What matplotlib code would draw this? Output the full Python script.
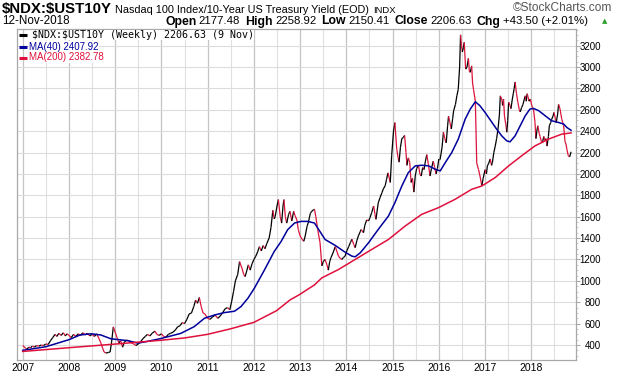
import numpy as np
import matplotlib
matplotlib.use("Agg")
import matplotlib.pyplot as plt
from matplotlib.collections import LineCollection
from matplotlib.lines import Line2D
from matplotlib.ticker import MultipleLocator, FixedLocator

# ---------------------------------------------------------
# DATA (time as fractional year)
# ---------------------------------------------------------

price_t = [
    2007.00, 2007.03, 2007.06, 2007.09, 2007.13, 2007.17, 2007.21, 2007.25, 2007.30, 2007.35,
    2007.40, 2007.45, 2007.50, 2007.55, 2007.60, 2007.65, 2007.70, 2007.74, 2007.78, 2007.83,
    2007.88, 2007.92, 2007.96, 2008.00, 2008.05, 2008.10, 2008.15, 2008.20, 2008.25, 2008.30,
    2008.35, 2008.40, 2008.45, 2008.50, 2008.55, 2008.60, 2008.65, 2008.69, 2008.72, 2008.76,
    2008.80, 2008.85, 2008.89, 2008.92, 2008.96, 2009.00, 2009.04, 2009.08, 2009.12, 2009.16,
    2009.20, 2009.25, 2009.30, 2009.35, 2009.40, 2009.45, 2009.50, 2009.55, 2009.60, 2009.65,
    2009.70, 2009.75, 2009.80, 2009.86, 2009.90, 2009.95, 2010.00, 2010.05, 2010.10, 2010.15,
    2010.20, 2010.25, 2010.30, 2010.35, 2010.40, 2010.45, 2010.50, 2010.55, 2010.60, 2010.65,
    2010.70, 2010.74, 2010.78, 2010.82, 2010.86, 2010.90, 2010.94, 2011.00, 2011.05, 2011.10,
    2011.16, 2011.22, 2011.27, 2011.32, 2011.38, 2011.43, 2011.48, 2011.52, 2011.56, 2011.60,
    2011.65, 2011.69, 2011.74, 2011.78, 2011.81, 2011.85, 2011.88, 2011.92, 2011.96, 2012.00,
    2012.04, 2012.08, 2012.12, 2012.16, 2012.20, 2012.24, 2012.28, 2012.33, 2012.37, 2012.41,
    2012.44, 2012.46, 2012.50, 2012.53, 2012.57, 2012.60, 2012.63, 2012.65, 2012.68, 2012.71,
    2012.75, 2012.78, 2012.82, 2012.86, 2012.89, 2012.93, 2012.96, 2013.00, 2013.04, 2013.08,
    2013.11, 2013.15, 2013.18, 2013.22, 2013.25, 2013.29, 2013.31, 2013.34, 2013.38, 2013.43,
    2013.47, 2013.50, 2013.54, 2013.58, 2013.61, 2013.64, 2013.67, 2013.71, 2013.76, 2013.80,
    2013.83, 2013.87, 2013.90, 2013.94, 2013.97, 2014.01, 2014.05, 2014.09, 2014.12, 2014.16,
    2014.19, 2014.23, 2014.26, 2014.30, 2014.32, 2014.37, 2014.40, 2014.44, 2014.48, 2014.51,
    2014.55, 2014.59, 2014.62, 2014.64, 2014.69, 2014.73, 2014.77, 2014.80, 2014.84, 2014.87,
    2014.90, 2014.95, 2014.98, 2015.02, 2015.05, 2015.09, 2015.12, 2015.14, 2015.17, 2015.20,
    2015.23, 2015.26, 2015.29, 2015.31, 2015.34, 2015.37, 2015.40, 2015.43, 2015.46, 2015.49,
    2015.52, 2015.56, 2015.59, 2015.62, 2015.65, 2015.68, 2015.71, 2015.74, 2015.77, 2015.81,
    2015.84, 2015.88, 2015.91, 2015.94, 2015.97, 2016.00, 2016.03, 2016.07, 2016.10, 2016.13,
    2016.16, 2016.19, 2016.21, 2016.24, 2016.27, 2016.30, 2016.32, 2016.36, 2016.39, 2016.42,
    2016.45, 2016.47, 2016.49, 2016.51, 2016.53, 2016.55, 2016.58, 2016.61, 2016.64, 2016.66,
    2016.68, 2016.71, 2016.73, 2016.75, 2016.79, 2016.82, 2016.86, 2016.89, 2016.93, 2016.96,
    2017.00, 2017.03, 2017.05, 2017.08, 2017.11, 2017.14, 2017.16, 2017.19, 2017.22, 2017.25,
    2017.28, 2017.31, 2017.33, 2017.36, 2017.38, 2017.40, 2017.42, 2017.45, 2017.47, 2017.49,
    2017.51, 2017.54, 2017.56, 2017.59, 2017.61, 2017.63, 2017.65, 2017.68, 2017.71, 2017.74,
    2017.76, 2017.79, 2017.82, 2017.85, 2017.87, 2017.89, 2017.91, 2017.93, 2017.95, 2017.98,
    2018.01, 2018.03, 2018.05, 2018.08, 2018.10, 2018.12, 2018.14, 2018.17, 2018.19, 2018.22,
    2018.24, 2018.27, 2018.30, 2018.32, 2018.34, 2018.37, 2018.39, 2018.42, 2018.44, 2018.47,
    2018.49, 2018.52, 2018.54, 2018.57, 2018.59, 2018.62, 2018.64, 2018.66, 2018.68, 2018.70,
    2018.73, 2018.75, 2018.77, 2018.80, 2018.83, 2018.86,
]
price_v = [
    395, 385, 370, 360, 380, 375, 390, 380, 395, 390,
    400, 395, 410, 405, 440, 470, 500, 480, 510, 490,
    515, 485, 505, 490, 470, 500, 480, 505, 490, 515,
    495, 510, 485, 500, 480, 505, 460, 420, 380, 335,
    325, 330, 335, 420, 570, 520, 470, 420, 440, 380,
    430, 445, 440, 420, 410, 395, 410, 430, 460, 480,
    500, 485, 510, 530, 500, 490, 505, 480, 475, 500,
    510, 520, 540, 570, 580, 610, 600, 640, 690, 700,
    760, 820, 790, 845, 760, 700, 690, 650, 640, 660,
    680, 650, 670, 700, 740, 750, 730, 810, 900, 1000,
    1060, 1180, 1120, 1060, 1040, 1100, 1150, 1100, 1160, 1200,
    1230, 1270, 1320, 1280, 1330, 1300, 1350, 1400, 1500, 1660,
    1580, 1600, 1700, 1760, 1600, 1540, 1700, 1760, 1600, 1540,
    1620, 1650, 1560, 1650, 1610, 1570, 1480, 1420, 1390, 1370,
    1420, 1510, 1550, 1630, 1650, 1665, 1670, 1600, 1480, 1360,
    1140, 1180, 1200, 1150, 1100, 1180, 1220, 1260, 1320, 1270,
    1230, 1210, 1200, 1220, 1230, 1280, 1320, 1360, 1390, 1340,
    1310, 1380, 1420, 1460, 1480, 1450, 1520, 1570, 1560, 1590,
    1640, 1700, 1620, 1575, 1730, 1780, 1825, 1860, 1890, 1950,
    2010, 1920, 2170, 2400, 2480, 2230, 2150, 2110, 2250, 2330,
    2340, 2360, 2200, 2080, 2150, 2110, 1920, 1960, 1830, 1980,
    2050, 2080, 2000, 1980, 2060, 2040, 2120, 2180, 2100, 1980,
    2050, 2120, 2060, 2000, 2050, 2140, 2140, 2250, 2390, 2330,
    2290, 2450, 2540, 2480, 2420, 2520, 2590, 2650, 2730, 2790,
    3000, 3300, 3200, 3140, 3180, 3230, 2980, 3000, 3080, 2960,
    2950, 3010, 2850, 2790, 2680, 2100, 2040, 1980, 1890, 1960,
    2040, 2000, 2075, 2100, 2140, 2080, 2110, 2200, 2260, 2330,
    2420, 2550, 2730, 2700, 2640, 2700, 2540, 2460, 2390, 2500,
    2670, 2640, 2610, 2700, 2750, 2800, 2860, 2750, 2670, 2600,
    2580, 2620, 2650, 2700, 2730, 2680, 2750, 2720, 2680, 2700,
    2640, 2620, 2600, 2480, 2330, 2400, 2450, 2380, 2350, 2300,
    2290, 2350, 2310, 2330, 2260, 2350, 2450, 2480, 2510, 2540,
    2575, 2520, 2480, 2560, 2650, 2610, 2560, 2510, 2480, 2450,
    2300, 2280, 2230, 2170, 2160, 2207,
]

ma40_t = [2007.00, 2007.50, 2008.00, 2008.24, 2008.48, 2008.69, 2008.91, 2009.27, 2009.49, 2009.70,
          2010.00, 2010.42, 2010.71, 2010.93, 2011.15, 2011.36, 2011.58, 2011.72, 2011.87, 2012.01,
          2012.23, 2012.44, 2012.59, 2012.73, 2012.88, 2013.02, 2013.16, 2013.31, 2013.40, 2013.54,
          2013.76, 2013.97, 2014.12, 2014.19, 2014.30, 2014.48, 2014.69, 2014.91, 2015.05, 2015.20,
          2015.34, 2015.49, 2015.63, 2015.78, 2015.92, 2016.03, 2016.14, 2016.28, 2016.42, 2016.57,
          2016.68, 2016.79, 2016.89, 2017.00, 2017.15, 2017.25, 2017.36, 2017.47, 2017.54, 2017.65,
          2017.76, 2017.87, 2017.97, 2018.05, 2018.16, 2018.30, 2018.44, 2018.59, 2018.70, 2018.77,
          2018.86]
ma40_v = [350, 384, 450, 494, 505, 494, 458, 441, 418, 434,
          462, 509, 572, 650, 681, 703, 716, 759, 837, 931,
          1103, 1275, 1369, 1478, 1541, 1556, 1556, 1541, 1481, 1387,
          1331, 1269, 1231, 1225, 1262, 1356, 1481, 1606, 1731, 1887,
          2012, 2075, 2081, 2075, 2044, 2028, 2106, 2200, 2325, 2512,
          2606, 2675, 2637, 2575, 2481, 2419, 2356, 2309, 2300, 2356,
          2450, 2544, 2606, 2612, 2591, 2544, 2497, 2481, 2466, 2434,
          2408]

ma200_t = [2007.00, 2008.00, 2009.00, 2010.00, 2010.50, 2011.00, 2011.50, 2012.00, 2012.49, 2012.78,
           2013.00, 2013.14, 2013.31, 2013.47, 2013.83, 2014.19, 2014.55, 2014.91, 2015.27, 2015.63,
           2015.99, 2016.35, 2016.71, 2016.93, 2017.22, 2017.51, 2017.79, 2018.08, 2018.37, 2018.66,
           2018.86]
ma200_v = [340, 375, 409, 445, 466, 500, 552, 612, 721, 821,
           875, 915, 962, 1028, 1106, 1200, 1294, 1387, 1512, 1622,
           1684, 1762, 1856, 1887, 1966, 2075, 2169, 2262, 2325, 2372,
           2383]

year_ticks = list(range(2007, 2019))
half_years = [y + 0.5 for y in range(2006, 2019)]

# ---------------------------------------------------------
# STYLE
# ---------------------------------------------------------

W, H = 620, 376
UP = "#000000"
DOWN = "#DC143C"
MA40_C = "#00009C"
MA200_C = "#E0103C"
SANS = ["Liberation Sans", "DejaVu Sans"]

def fx(px):
    return px / W

def fy(py):
    return 1 - py / H

fig = plt.figure(figsize=(W / 100, H / 100), dpi=100)
ax = fig.add_axes([fx(16.7), fy(360), fx(576) - fx(16.7), fy(29) - fy(360)])
renderer = fig.canvas.get_renderer()

# grid
for y in half_years:
    ax.axvline(y, color="#E0E0E0", lw=0.8, zorder=0)
for y in year_ticks + [2019]:
    ax.axvline(y, color="#C4C4C4", lw=0.9, zorder=0)
for v in range(400, 3400, 200):
    ax.axhline(v, color="#DCDCDC", lw=0.8, zorder=0)

# price, black on up weeks, red on down weeks
pts = np.column_stack([price_t, price_v])
segs = np.stack([pts[:-1], pts[1:]], axis=1)
cols = [UP if b >= a else DOWN for a, b in zip(price_v[:-1], price_v[1:])]
ax.add_collection(LineCollection(segs, colors=cols, linewidths=0.9, zorder=3))

ax.plot(ma40_t, ma40_v, color=MA40_C, lw=1.1, zorder=4)
ax.plot(ma200_t, ma200_v, color=MA200_C, lw=1.1, zorder=4)

ax.set_xlim(2006.87, 2018.967)
ax.set_ylim(260, 3355)

for s in ax.spines.values():
    s.set_color("#A8A8A8")
    s.set_linewidth(0.9)

ax.yaxis.tick_right()
ax.yaxis.set_major_locator(FixedLocator(range(400, 3400, 200)))
ax.yaxis.set_minor_locator(MultipleLocator(50))
ax.tick_params(axis="y", which="major", length=3, color="#A8A8A8", pad=15, labelsize=7)
ax.tick_params(axis="y", which="minor", length=1.5, color="#C0C0C0")
for lbl in ax.get_yticklabels():
    lbl.set_ha("right")
    lbl.set_fontfamily(SANS)

ax.set_xticks(year_ticks)
ax.set_xticklabels([str(y) for y in year_ticks])
ax.tick_params(axis="x", length=0, pad=2.5, labelsize=7.5)
for lbl in ax.get_xticklabels():
    lbl.set_fontfamily(SANS)

# legend in the top-left corner
legend_rows = [
    (r"\$NDX:\$UST10Y (Weekly) 2206.63 (9 Nov)", UP, ["DejaVu Sans Mono"], 7.2, 32, 35),
    ("MA(40) 2407.92", MA40_C, SANS, 7, 29.5, 46.5),
    ("MA(200) 2382.78", MA200_C, SANS, 7, 29.5, 57.5),
]
for txt, c, fam, size, x0, y0 in legend_rows:
    fig.add_artist(Line2D([fx(19.5), fx(27)], [fy(y0), fy(y0)], color=c, lw=2.2,
                          transform=fig.transFigure, solid_capstyle="butt"))
    fig.text(fx(x0), fy(y0), txt, color=c, fontsize=size, family=fam, va="center",
             bbox=dict(facecolor="white", edgecolor="none", pad=0.3))

# header, pieces laid out left to right on a common baseline
def row(parts, x0, base):
    x = x0
    for txt, size, wt, gap in parts:
        x += gap
        t = fig.text(fx(x), fy(base), txt, fontsize=size, weight=wt, color="black",
                     family=SANS, va="baseline")
        x = t.get_window_extent(renderer).x1

row([
    (r"\$NDX:\$UST10Y", 10.8, "bold", 0),
    ("Nasdaq 100 Index/10-Year US Treasury Yield (EOD)", 7.8, "normal", 3),
    ("INDX", 6.8, "normal", 4),
], 2, 13)

fig.text(fx(612), fy(8), "©StockCharts.com", fontsize=8.6, color="#555555",
         family=SANS, ha="right", va="center")

row([("12-Nov-2018", 8.4, "normal", 0)], 2, 24.5)

row([
    ("Open", 8.8, "bold", 0),
    ("2177.48", 8.2, "normal", 2.5),
    ("High", 8.8, "bold", 5),
    ("2258.92", 8.2, "normal", 2.5),
    ("Low", 8.8, "bold", 5),
    ("2150.41", 8.2, "normal", 2.5),
    ("Close", 8.8, "bold", 5),
    ("2206.63", 8.2, "normal", 2.5),
    ("Chg", 8.8, "bold", 5),
    ("+43.50 (+2.01%)", 8.2, "normal", 2.5),
], 165, 24.5)
fig.text(fx(605), fy(21), "▲", fontsize=5, color="#2E9E2E", family=["DejaVu Sans"],
         ha="center", va="center")

fig.savefig("out.png", dpi=100, facecolor="white")
